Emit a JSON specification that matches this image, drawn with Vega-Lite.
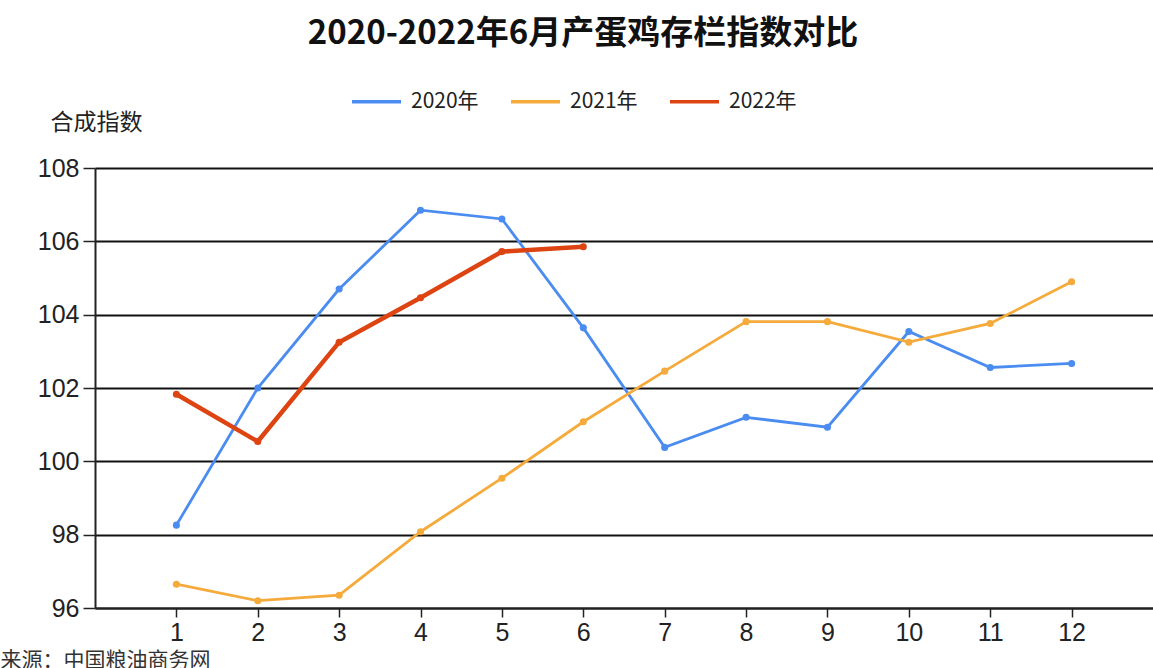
{
  "$schema": "https://vega.github.io/schema/vega-lite/v6.json",
  "autosize": "none",
  "width": 1058,
  "height": 440,
  "padding": {"left": 95, "top": 168, "right": 0, "bottom": 60},
  "background": "white",
  "config": {"font": "Noto Sans CJK SC", "view": {"stroke": null}},
  "title": {
    "text": "2020-2022年6月产蛋鸡存栏指数对比",
    "font": "Noto Sans CJK SC",
    "fontSize": 33,
    "fontWeight": "bold",
    "color": "#111",
    "anchor": "middle",
    "frame": "group",
    "dx": -41,
    "offset": 24
  },
  "data": {
    "values": [
      {"month": 1, "year": "2020年", "value": 98.26},
      {"month": 2, "year": "2020年", "value": 102.0},
      {"month": 3, "year": "2020年", "value": 104.7},
      {"month": 4, "year": "2020年", "value": 106.85},
      {"month": 5, "year": "2020年", "value": 106.61},
      {"month": 6, "year": "2020年", "value": 103.64},
      {"month": 7, "year": "2020年", "value": 100.38},
      {"month": 8, "year": "2020年", "value": 101.2},
      {"month": 9, "year": "2020年", "value": 100.93},
      {"month": 10, "year": "2020年", "value": 103.54},
      {"month": 11, "year": "2020年", "value": 102.56},
      {"month": 12, "year": "2020年", "value": 102.67},
      {"month": 1, "year": "2021年", "value": 96.65},
      {"month": 2, "year": "2021年", "value": 96.2},
      {"month": 3, "year": "2021年", "value": 96.35},
      {"month": 4, "year": "2021年", "value": 98.08},
      {"month": 5, "year": "2021年", "value": 99.54},
      {"month": 6, "year": "2021年", "value": 101.08},
      {"month": 7, "year": "2021年", "value": 102.46},
      {"month": 8, "year": "2021年", "value": 103.81},
      {"month": 9, "year": "2021年", "value": 103.81},
      {"month": 10, "year": "2021年", "value": 103.25},
      {"month": 11, "year": "2021年", "value": 103.76},
      {"month": 12, "year": "2021年", "value": 104.9},
      {"month": 1, "year": "2022年", "value": 101.83},
      {"month": 2, "year": "2022年", "value": 100.54},
      {"month": 3, "year": "2022年", "value": 103.25},
      {"month": 4, "year": "2022年", "value": 104.46},
      {"month": 5, "year": "2022年", "value": 105.72},
      {"month": 6, "year": "2022年", "value": 105.85}
    ]
  },
  "encoding": {
    "x": {
      "field": "month",
      "type": "quantitative",
      "scale": {"domain": [0, 13], "nice": false, "zero": false},
      "axis": {
        "values": [1, 2, 3, 4, 5, 6, 7, 8, 9, 10, 11, 12],
        "grid": false,
        "domainColor": "#222",
        "domainWidth": 2,
        "tickColor": "#222",
        "tickWidth": 1.5,
        "tickSize": 9,
        "labelFontSize": 25,
        "labelColor": "#222",
        "labelPadding": 3,
        "labelFont": "Liberation Sans",
        "title": "来源：中国粮油商务网",
        "titleFontSize": 21,
        "titleFontWeight": "normal",
        "titleColor": "#333",
        "titleAnchor": "start",
        "titleAlign": "left",
        "titleBaseline": "top",
        "titleX": -95,
        "titleY": 41
      }
    },
    "y": {
      "field": "value",
      "type": "quantitative",
      "scale": {"domain": [96, 108], "nice": false, "zero": false},
      "axis": {
        "values": [96, 98, 100, 102, 104, 106, 108],
        "grid": true,
        "gridColor": "#111",
        "gridWidth": 1.8,
        "gridOpacity": 1,
        "domainColor": "#222",
        "domainWidth": 2,
        "tickColor": "#222",
        "tickWidth": 1.5,
        "tickSize": 12,
        "labelFontSize": 25,
        "labelColor": "#222",
        "labelPadding": 4,
        "labelFont": "Liberation Sans",
        "title": "合成指数",
        "titleAngle": 0,
        "titleFontSize": 23,
        "titleFontWeight": "normal",
        "titleColor": "#222",
        "titleAlign": "left",
        "titleBaseline": "middle",
        "titleX": -45,
        "titleY": -46
      }
    },
    "color": {
      "field": "year",
      "type": "nominal",
      "scale": {
        "domain": ["2020年", "2021年", "2022年"],
        "range": ["#4a8cf0", "#f5aa3c", "#dd4412"]
      },
      "legend": {
        "orient": "none",
        "direction": "horizontal",
        "legendX": 255,
        "legendY": -93,
        "title": null,
        "symbolType": "stroke",
        "symbolSize": 2400,
        "symbolStrokeWidth": 3.5,
        "labelFontSize": 21,
        "labelColor": "#222",
        "labelFont": "Noto Sans CJK SC",
        "labelOffset": 8,
        "columnPadding": 25
      }
    }
  },
  "layer": [
    {
      "transform": [{"filter": "datum.year !== '2022年'"}],
      "mark": {"type": "line", "interpolate": "linear", "strokeWidth": 2.8},
      "encoding": {}
    },
    {
      "transform": [{"filter": "datum.year === '2022年'"}],
      "mark": {"type": "line", "interpolate": "linear", "strokeWidth": 4.5},
      "encoding": {}
    },
    {
      "mark": {"type": "point", "filled": true, "size": 50, "opacity": 1},
      "encoding": {}
    }
  ]
}
